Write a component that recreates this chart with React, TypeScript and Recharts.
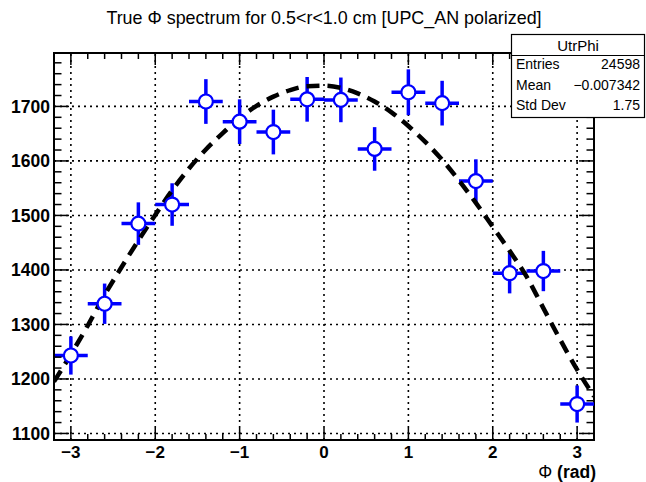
import React from "react";
import {
  ComposedChart,
  Scatter,
  Line,
  XAxis,
  YAxis,
  ErrorBar,
  ReferenceLine,
  ReferenceArea,
} from "recharts";

// ---- data ----
const phiBins = [-3.0, -2.6, -2.2, -1.8, -1.4, -1.0, -0.6, -0.2, 0.2, 0.6, 1.0, 1.4, 1.8, 2.2, 2.6, 3.0];
const counts = [1243, 1338, 1485, 1520, 1709, 1672, 1653, 1713, 1712, 1622, 1726, 1706, 1563, 1394, 1398, 1154];
const countErr = [35, 37, 39, 39, 41, 41, 41, 41, 41, 40, 42, 41, 40, 37, 37, 34];
const binHalfWidth = [0.2, 0.2, 0.2, 0.2, 0.2, 0.2, 0.2, 0.2, 0.2, 0.2, 0.2, 0.2, 0.2, 0.2, 0.2, 0.2];

const fitPhi = [-3.2, -3.0, -2.8, -2.6, -2.4, -2.2, -2.0, -1.8, -1.6, -1.4, -1.2, -1.0, -0.8, -0.6, -0.4, -0.2, 0.0,
  0.2, 0.4, 0.6, 0.8, 1.0, 1.2, 1.4, 1.6, 1.8, 2.0, 2.2, 2.4, 2.6, 2.8, 3.0, 3.2];
const fitValues = [1195, 1245, 1298, 1354, 1405, 1454, 1501, 1546, 1586, 1621, 1651, 1679, 1701, 1718, 1730, 1737, 1738,
  1734, 1724, 1709, 1689, 1664, 1635, 1602, 1564, 1523, 1479, 1435, 1388, 1330, 1272, 1217, 1168];

const xMajorTicks = [-3, -2, -1, 0, 1, 2, 3];
const xTickLabels = ["\u22123", "\u22122", "\u22121", "0", "1", "2", "3"];
const xAllTicks = [-3.0, -2.8, -2.6, -2.4, -2.2, -2.0, -1.8, -1.6, -1.4, -1.2, -1.0, -0.8, -0.6, -0.4, -0.2, 0.0,
  0.2, 0.4, 0.6, 0.8, 1.0, 1.2, 1.4, 1.6, 1.8, 2.0, 2.2, 2.4, 2.6, 2.8, 3.0];
const yMajorTicks = [1100, 1200, 1300, 1400, 1500, 1600, 1700];
const yAllTicks = [1100, 1120, 1140, 1160, 1180, 1200, 1220, 1240, 1260, 1280, 1300, 1320, 1340, 1360, 1380, 1400,
  1420, 1440, 1460, 1480, 1500, 1520, 1540, 1560, 1580, 1600, 1620, 1640, 1660, 1680, 1700, 1720, 1740, 1760, 1780];

const xDomain = [-3.2, 3.2];
const yDomain = [1088, 1798];

const titleText = "True \u03A6 spectrum for 0.5<r<1.0 cm [UPC_AN polarized]";
const statsName = "UtrPhi";
const statsRows = [
  ["Entries", "24598"],
  ["Mean", "\u22120.007342"],
  ["Std Dev", "1.75"],
];
const xAxisTitle = ["\u03A6", " (rad)"];

const pointData = phiBins.map((x, i) => ({ x, y: counts[i], ey: countErr[i], ex: binHalfWidth[i] }));
const fitData = fitPhi.map((x, i) => ({ x, fit: fitValues[i] }));

// ---- layout ----
const W = 646;
const H = 482;
const M_TOP = 53;
const M_RIGHT = 52;
const PLOT_LEFT = 54;
const PLOT_BOTTOM = 440;
const PLOT_RIGHT = W - M_RIGHT;
const FONT = "'Liberation Sans', Arial, Helvetica, sans-serif";
const BLUE = "#0000ff";

const isMajor = (v: number) => Math.abs(v - Math.round(v)) < 1e-6;

const XTick = (props: any) => {
  const { x, y, payload } = props;
  const v = payload.value as number;
  const major = isMajor(v);
  const len = major ? 12 : 6;
  const idx = xMajorTicks.findIndex((t) => Math.abs(t - v) < 1e-6);
  return (
    <g>
      <line x1={x} y1={y} x2={x} y2={y - len} stroke="#000" strokeWidth={1.5} />
      <line x1={x} y1={M_TOP} x2={x} y2={M_TOP + len} stroke="#000" strokeWidth={1.5} />
      {major && idx >= 0 && (
        <text x={x} y={y + 17.5} textAnchor="middle" fontFamily={FONT} fontWeight="bold" fontSize={17} fill="#000">
          {xTickLabels[idx]}
        </text>
      )}
    </g>
  );
};

const YTick = (props: any) => {
  const { x, y, payload } = props;
  const v = payload.value as number;
  const major = yMajorTicks.includes(v);
  const len = major ? 15 : 7.5;
  return (
    <g>
      <line x1={x} y1={y} x2={x + len} y2={y} stroke="#000" strokeWidth={1.5} />
      <line x1={PLOT_RIGHT} y1={y} x2={PLOT_RIGHT - len} y2={y} stroke="#000" strokeWidth={1.5} />
      {major && (
        <text x={x - 4} y={y + 6.5} textAnchor="end" fontFamily={FONT} fontWeight="bold" fontSize={17.5} fill="#000">
          {String(v)}
        </text>
      )}
    </g>
  );
};

const Marker = (props: any) => {
  const { cx, cy } = props;
  if (cx == null || cy == null) return null;
  return <circle cx={cx} cy={cy} r={7} fill="#fff" stroke={BLUE} strokeWidth={2.2} />;
};

export default function App() {
  return (
    <div style={{ position: "absolute", left: 0, top: 0, width: W, height: H, background: "#fff" }}>
      <ComposedChart
        width={W}
        height={H}
        margin={{ top: M_TOP, right: M_RIGHT, bottom: 0, left: 0 }}
      >
        <XAxis
          dataKey="x"
          type="number"
          domain={xDomain}
          ticks={xAllTicks}
          interval={0}
          height={H - PLOT_BOTTOM}
          tickSize={0}
          tickMargin={0}
          tickLine={false}
          axisLine={{ stroke: "#000", strokeWidth: 2 }}
          tick={<XTick />}
          allowDataOverflow
        />
        <YAxis
          type="number"
          domain={yDomain}
          ticks={yAllTicks}
          interval={0}
          width={PLOT_LEFT}
          tickSize={0}
          tickMargin={0}
          tickLine={false}
          axisLine={{ stroke: "#000", strokeWidth: 2 }}
          tick={<YTick />}
          allowDataOverflow
        />
        {xMajorTicks.map((v) => (
          <ReferenceLine key={"gx" + v} x={v} stroke="#000" strokeWidth={1.6} strokeDasharray="2 4" />
        ))}
        {yMajorTicks.map((v) => (
          <ReferenceLine key={"gy" + v} y={v} stroke="#000" strokeWidth={1.6} strokeDasharray="2 4" />
        ))}
        <ReferenceArea
          x1={xDomain[0]}
          x2={xDomain[1]}
          y1={yDomain[0]}
          y2={yDomain[1]}
          fill="none"
          fillOpacity={0}
          stroke="#000"
          strokeWidth={2}
        />
        <Scatter data={pointData} dataKey="y" shape={<Marker />} isAnimationActive={false}>
          <ErrorBar dataKey="ey" direction="y" width={0} stroke={BLUE} strokeWidth={3.5} isAnimationActive={false} />
          <ErrorBar dataKey="ex" direction="x" width={0} stroke={BLUE} strokeWidth={3.5} isAnimationActive={false} />
        </Scatter>
        <Line
          data={fitData}
          dataKey="fit"
          type="monotone"
          stroke="#000"
          strokeWidth={4.5}
          strokeDasharray="13 8"
          dot={false}
          activeDot={false}
          isAnimationActive={false}
        />
      </ComposedChart>
      <svg
        width={W}
        height={H}
        style={{ position: "absolute", left: 0, top: 0, pointerEvents: "none" }}
      >
        <text x={324} y={24} textAnchor="middle" fontFamily={FONT} fontSize={17.9} fill="#000">
          {titleText}
        </text>
        <rect x={511.5} y={34.5} width={133} height={83} fill="#fff" stroke="#000" strokeWidth={1.2} />
        <line x1={511.5} y1={55.5} x2={644.5} y2={55.5} stroke="#000" strokeWidth={1} />
        <text x={578} y={50.5} textAnchor="middle" fontFamily={FONT} fontSize={15} fill="#000">
          {statsName}
        </text>
        {statsRows.map((r, i) => (
          <g key={r[0]}>
            <text x={516} y={69 + i * 20.5} fontFamily={FONT} fontSize={14} fill="#000">
              {r[0]}
            </text>
            <text x={640} y={69 + i * 20.5} textAnchor="end" fontFamily={FONT} fontSize={14} fill="#000">
              {r[1]}
            </text>
          </g>
        ))}
        <text x={596} y={478} textAnchor="end" fontFamily={FONT} fontWeight="bold" fontSize={17.5} fill="#000">
          <tspan fontWeight="normal">{xAxisTitle[0]}</tspan>
          {xAxisTitle[1]}
        </text>
      </svg>
    </div>
  );
}
